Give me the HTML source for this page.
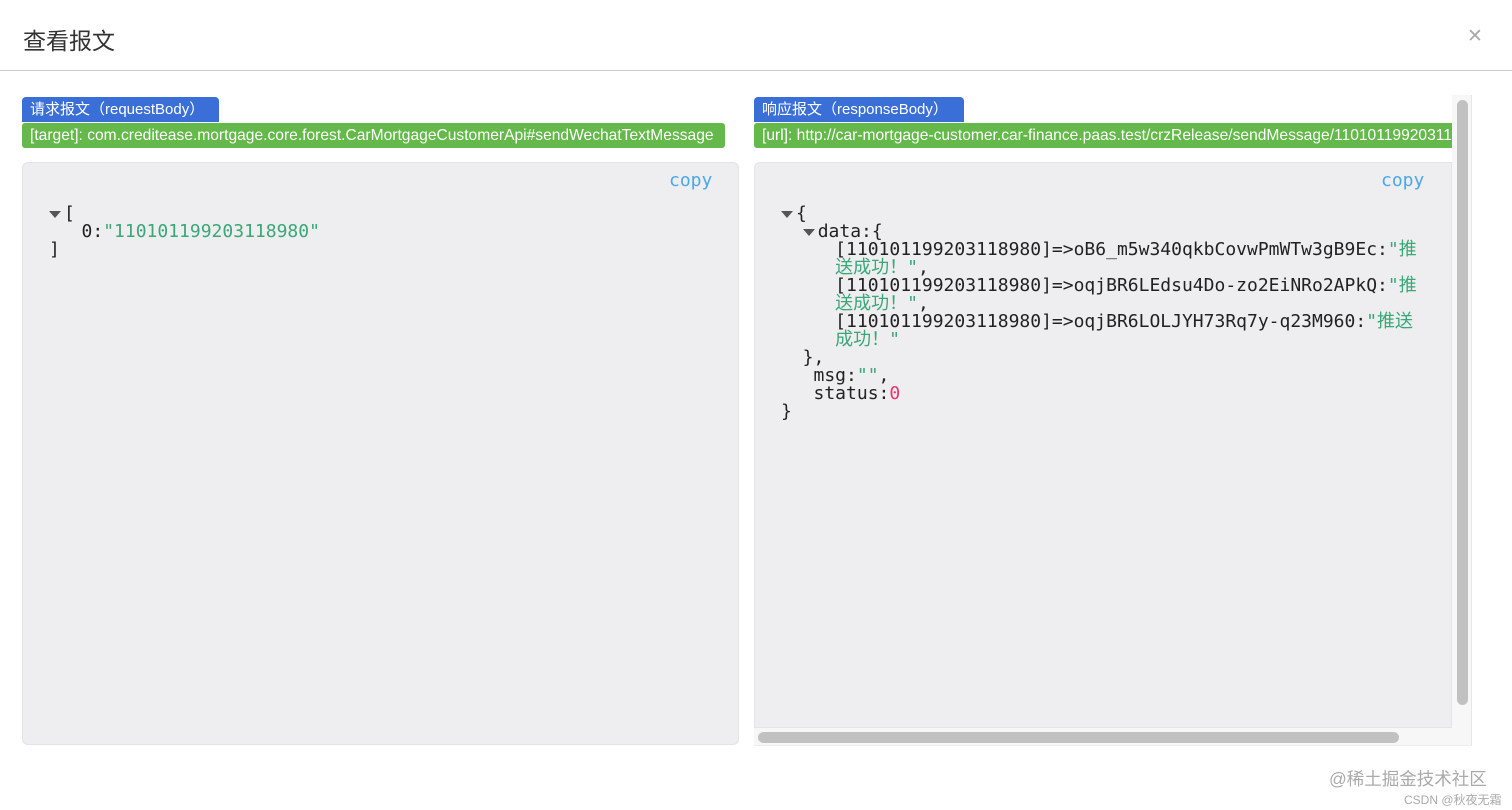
<!DOCTYPE html>
<html><head><meta charset="utf-8">
<style>
*{margin:0;padding:0;box-sizing:border-box}
body{width:1512px;height:810px;background:#fff;position:relative;overflow:hidden;font-family:"Liberation Sans","Noto Sans CJK SC",sans-serif}
.abs{position:absolute}
.title{left:23px;top:26px;font-size:23px;color:#333;line-height:30px}
.hr{left:0;top:70px;width:1512px;height:1px;background:#ccc}
.close{left:1467px;top:27px;font-size:19px;color:#aaa;line-height:19px;font-weight:300}
.tag{background:#3a6fd8;color:#fff;font-size:15px;line-height:25px;padding-left:8px;border-radius:4px 4px 0 0;white-space:nowrap}
.bar{background:#64b94a;color:#fff;font-size:15.6px;line-height:25px;padding-left:8px;border-radius:3px;white-space:nowrap;overflow:hidden}
.panel{background:#eeeef1;border-radius:6px;border:1px solid #e4e4e8}
.copy{font-family:"DejaVu Sans Mono","Liberation Mono",monospace;font-size:18px;color:#4aa8e8}
.code{font-family:"DejaVu Sans Mono","Liberation Mono","Noto Sans CJK SC",monospace;font-size:18px;line-height:18px;color:#222;white-space:pre}
.s{color:#3aa776;font-family:"DejaVu Sans Mono","Noto Sans CJK SC",monospace}
.n{color:#e8336e}
.tri{display:inline-block;width:0;height:0;border-left:6px solid transparent;border-right:6px solid transparent;border-top:7px solid #555;vertical-align:middle;margin-right:3px}
</style></head><body>
<div class="abs title">查看报文</div>
<div class="abs close">✕</div>
<div class="abs hr"></div>

<div class="abs tag" style="left:22px;top:97px;width:197px">请求报文（requestBody）</div>
<div class="abs bar" style="left:22px;top:123px;width:703px">[target]: com.creditease.mortgage.core.forest.CarMortgageCustomerApi#sendWechatTextMessage</div>
<div class="abs panel" style="left:22px;top:162px;width:717px;height:583px"></div>
<div class="abs copy" style="left:669px;top:170px">copy</div>
<div class="abs code" style="left:49px;top:205px"><span class="tri"></span>[
   0:<span class="s">"110101199203118980"</span>
]</div>

<div class="abs" style="left:1471px;top:95px;width:1px;height:650px;background:#e6e6e6"></div>
<div class="abs" style="left:754px;top:745px;width:718px;height:1px;background:#eee"></div>
<div class="abs tag" style="left:754px;top:97px;width:210px">响应报文（responseBody）</div>
<div class="abs bar" style="left:754px;top:123px;width:698px;border-radius:3px 0 0 3px">[url]: http://car-mortgage-customer.car-finance.paas.test/crzRelease/sendMessage/110101199203118980</div>
<div class="abs panel" style="left:754px;top:162px;width:698px;height:566px;border-radius:6px 0 0 0"></div>
<div class="abs copy" style="left:1381px;top:170px">copy</div>
<div class="abs code" style="left:781px;top:205px"><span class="tri"></span>{
  <span class="tri"></span>data:{
     [110101199203118980]=&gt;oB6_m5w340qkbCovwPmWTw3gB9Ec:<span class="s">"推</span>
<span class="s">     送成功！"</span>,
     [110101199203118980]=&gt;oqjBR6LEdsu4Do-zo2EiNRo2APkQ:<span class="s">"推</span>
<span class="s">     送成功！"</span>,
     [110101199203118980]=&gt;oqjBR6LOLJYH73Rq7y-q23M960:<span class="s">"推送</span>
<span class="s">     成功！"</span>
  },
   msg:<span class="s">""</span>,
   status:<span class="n">0</span>
}</div>
<div class="abs" style="left:1452px;top:95px;width:19px;height:638px;background:#f7f7f7"></div>
<div class="abs" style="left:1457px;top:100px;width:11px;height:605px;background:#c1c1c1;border-radius:6px"></div>
<div class="abs" style="left:754px;top:728px;width:717px;height:17px;background:#f7f7f7"></div>
<div class="abs" style="left:758px;top:732px;width:641px;height:11px;background:#c1c1c1;border-radius:6px"></div>

<div class="abs" style="left:1329px;top:766px;font-size:17.5px;color:#aaa;white-space:nowrap">@稀土掘金技术社区</div>
<div class="abs" style="left:1404px;top:791px;font-size:12px;color:#aaa;white-space:nowrap">CSDN @秋夜无霜</div>
</body></html>
